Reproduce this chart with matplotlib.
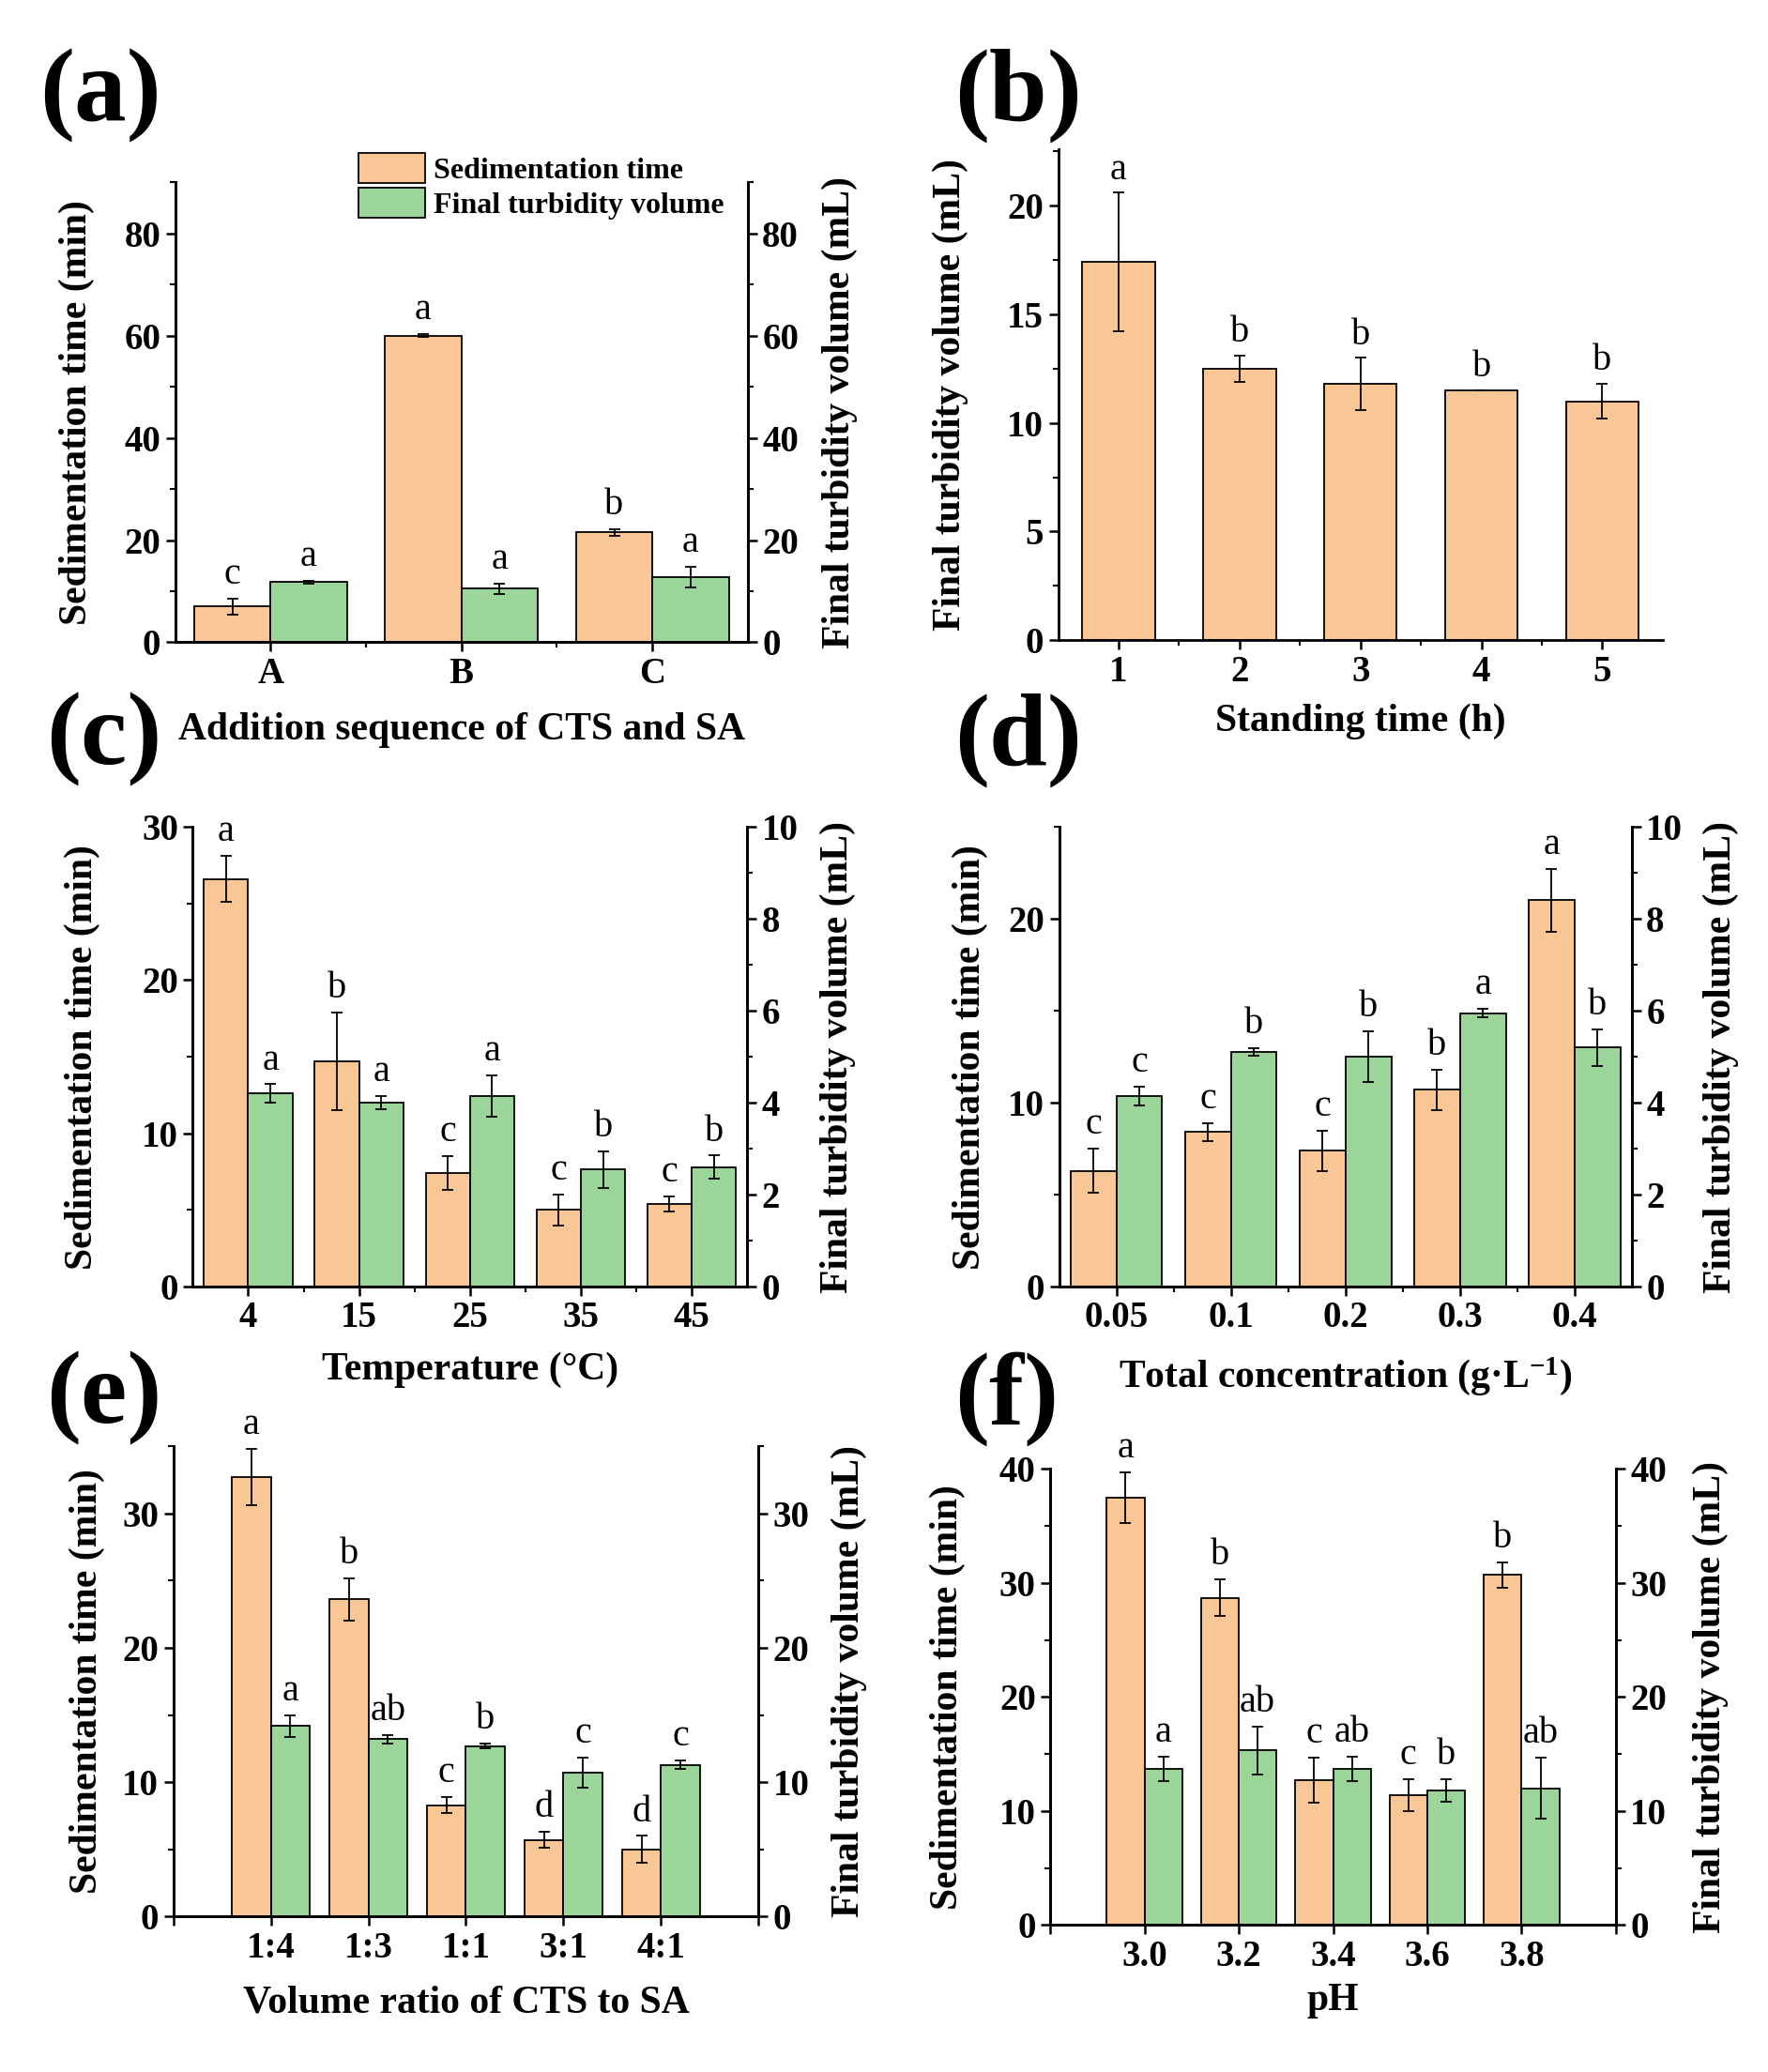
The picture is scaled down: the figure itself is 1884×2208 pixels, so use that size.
import matplotlib
matplotlib.use("Agg")
import matplotlib.pyplot as plt
import numpy as np
from matplotlib.ticker import MultipleLocator
from matplotlib.patches import Patch

plt.rcParams["font.family"] = ["Liberation Serif", "DejaVu Serif"]
plt.rcParams["mathtext.fontset"] = "custom"
plt.rcParams["mathtext.rm"] = "Liberation Serif"
plt.rcParams["mathtext.bf"] = "Liberation Serif:bold"
plt.rcParams["mathtext.default"] = "bf"

orange = "#F9C795"
green = "#9BD59A"

# (a) addition sequence
a_cats = ["A", "B", "C"]
a_sed = [7.0, 60.0, 21.5]
a_sed_err = [1.5, 0.3, 0.7]
a_sed_let = ["c", "a", "b"]
a_tur = [11.8, 10.5, 12.8]
a_tur_err = [0.3, 1.0, 2.0]
a_tur_let = ["a", "a", "a"]

# (b) standing time
b_cats = ["1", "2", "3", "4", "5"]
b_tur = [17.4, 12.5, 11.8, 11.5, 11.0]
b_tur_err = [3.2, 0.6, 1.2, 0.0, 0.8]
b_let = ["a", "b", "b", "b", "b"]

# (c) temperature
c_cats = ["4", "15", "25", "35", "45"]
c_sed = [26.6, 14.7, 7.4, 5.0, 5.4]
c_sed_err = [1.5, 3.2, 1.1, 1.0, 0.5]
c_sed_let = ["a", "b", "c", "c", "c"]
c_tur = [4.2, 4.0, 4.15, 2.55, 2.6]
c_tur_err = [0.2, 0.15, 0.45, 0.4, 0.25]
c_tur_let = ["a", "a", "a", "b", "b"]

# (d) total concentration
d_cats = ["0.05", "0.1", "0.2", "0.3", "0.4"]
d_sed = [6.3, 8.4, 7.4, 10.7, 21.0]
d_sed_err = [1.2, 0.5, 1.1, 1.1, 1.7]
d_sed_let = ["c", "c", "c", "b", "a"]
d_tur = [4.15, 5.1, 5.0, 5.95, 5.2]
d_tur_err = [0.2, 0.08, 0.55, 0.1, 0.4]
d_tur_let = ["c", "b", "b", "a", "b"]

# (e) volume ratio
e_cats = ["1:4", "1:3", "1:1", "3:1", "4:1"]
e_sed = [32.7, 23.6, 8.3, 5.7, 5.0]
e_sed_err = [2.1, 1.6, 0.6, 0.6, 1.0]
e_sed_let = ["a", "b", "c", "d", "d"]
e_tur = [14.2, 13.2, 12.7, 10.7, 11.3]
e_tur_err = [0.8, 0.3, 0.2, 1.1, 0.3]
e_tur_let = ["a", "ab", "b", "c", "c"]

# (f) pH
f_cats = ["3.0", "3.2", "3.4", "3.6", "3.8"]
f_sed = [37.5, 28.7, 12.7, 11.4, 30.7]
f_sed_err = [2.2, 1.6, 2.0, 1.4, 1.1]
f_sed_let = ["a", "b", "c", "c", "b"]
f_tur = [13.7, 15.3, 13.7, 11.8, 12.0]
f_tur_err = [1.1, 2.1, 1.1, 1.0, 2.7]
f_tur_let = ["a", "ab", "ab", "b", "ab"]

TICK = 28
LAB = 30
LET = 29


def style_axis(ax, ymax, ymaj, ymin, right=False):
    ax.set_ylim(0, ymax)
    ax.yaxis.set_major_locator(MultipleLocator(ymaj))
    ax.yaxis.set_minor_locator(MultipleLocator(ymin))
    ax.tick_params(axis="both", which="major", direction="out", length=7,
                   width=1.8, labelsize=TICK, pad=4)
    ax.tick_params(axis="both", which="minor", direction="out", length=4,
                   width=1.5)
    for s in ax.spines.values():
        s.set_linewidth(2.0)
    ax.spines["top"].set_visible(False)
    if not right:
        ax.spines["right"].set_visible(False)
    for t in ax.get_yticklabels():
        t.set_fontweight("bold")


def letters(ax, xs, vals, errs, labs, off=5):
    for x, v, e, l in zip(xs, vals, errs, labs):
        ax.annotate(l, (x, v + e), xytext=(0, off), textcoords="offset points",
                    ha="center", va="bottom", fontsize=LET)


def bars(ax, xs, vals, errs, color, w):
    ax.bar(xs, vals, w, color=color, edgecolor="black", linewidth=1.3,
           zorder=2)
    ax.errorbar(xs, vals, yerr=errs, fmt="none", ecolor="black",
                elinewidth=1.3, capsize=4, capthick=1.3, zorder=3)


def dual(rect, cats, sed, sed_err, sed_let, tur, tur_err, tur_let,
         ylim1, maj1, min1, ylim2, maj2, min2, xlim, xlabel, xl_y,
         yl_l, yl_r, minor_x=True):
    ax = fig.add_axes(rect)
    ax2 = ax.twinx()
    x = np.arange(len(cats))
    w = 0.4
    bars(ax, x - w / 2, sed, sed_err, orange, w)
    bars(ax2, x + w / 2, tur, tur_err, green, w)
    style_axis(ax, ylim1, maj1, min1)
    style_axis(ax2, ylim2, maj2, min2, right=True)
    ax.spines["right"].set_visible(True)
    letters(ax, x - w / 2, sed, sed_err, sed_let)
    letters(ax2, x + w / 2, tur, tur_err, tur_let)
    ax.set_xlim(*xlim)
    ax.set_xticks(x)
    ax.set_xticklabels(cats, fontweight="bold")
    if minor_x:
        ax.set_xticks(x[:-1] + 0.5, minor=True)
    else:
        ax.set_xticks([xlim[0], xlim[1]], minor=True)
        ax.tick_params(axis="x", which="minor", length=7, width=1.8)
    ax.set_xlabel(xlabel, fontsize=LAB, fontweight="bold", va="center")
    ax.xaxis.set_label_coords(0.5, xl_y)
    ax.set_ylabel("Sedimentation time (min)", fontsize=LAB,
                  fontweight="bold", va="center")
    ax.yaxis.set_label_coords(yl_l, 0.5)
    ax2.set_ylabel("Final turbidity volume (mL)", fontsize=LAB,
                   fontweight="bold", rotation=90, va="center")
    ax2.yaxis.set_label_coords(yl_r, 0.5)
    return ax, ax2


fig = plt.figure(figsize=(18.84, 22.08), dpi=100)

# (a)
ax_a, ax_a2 = dual([0.099, 0.690, 0.324, 0.222], a_cats, a_sed, a_sed_err,
                   a_sed_let, a_tur, a_tur_err, a_tur_let,
                   90, 20, 10, 90, 20, 10, (-0.5, 2.5),
                   "Addition sequence of CTS and SA", -0.19, -0.172, 1.16)
handles = [Patch(facecolor=orange, edgecolor="black", linewidth=1.3),
           Patch(facecolor=green, edgecolor="black", linewidth=1.3)]
ax_a.legend(handles, ["Sedimentation time", "Final turbidity volume"],
            loc="upper left", bbox_to_anchor=(0.30, 1.09), frameon=False,
            prop={"size": 23, "weight": "bold"}, handlelength=2.2,
            handleheight=1.15, borderaxespad=0, handletextpad=0.3,
            labelspacing=0.12)

# (b)
ax_b = fig.add_axes([0.5985, 0.691, 0.342, 0.237])
xb = np.arange(1, len(b_cats) + 1)
bars(ax_b, xb, b_tur, b_tur_err, orange, 0.6)
style_axis(ax_b, 22.6, 5, 2.5)
letters(ax_b, xb, b_tur, b_tur_err, b_let, off=4)
ax_b.set_xlim(0.5, 5.5)
ax_b.set_xticks(xb)
ax_b.set_xticklabels(b_cats, fontweight="bold")
ax_b.set_xticks(xb[:-1] + 0.5, minor=True)
ax_b.set_xlabel("Standing time (h)", fontsize=LAB, fontweight="bold",
                va="center")
ax_b.xaxis.set_label_coords(0.5, -0.165)
ax_b.set_ylabel("Final turbidity volume (mL)", fontsize=LAB,
                fontweight="bold", va="center")
ax_b.yaxis.set_label_coords(-0.178, 0.5)

# (c)
dual([0.109, 0.379, 0.3136, 0.222], c_cats, c_sed, c_sed_err, c_sed_let,
     c_tur, c_tur_err, c_tur_let, 30, 10, 5, 10, 2, 1, (-0.5, 4.5),
     "Temperature (\u00b0C)", -0.18, -0.199, 1.163)

# (d)
dual([0.599, 0.379, 0.324, 0.222], d_cats, d_sed, d_sed_err, d_sed_let,
     d_tur, d_tur_err, d_tur_let, 25, 10, 5, 10, 2, 1, (-0.5, 4.5),
     "Total concentration (g\u00b7L$^{-1}$)", -0.194, -0.155, 1.155)

# (e)
dual([0.098, 0.075, 0.331, 0.227], e_cats, e_sed, e_sed_err, e_sed_let,
     e_tur, e_tur_err, e_tur_let, 35, 10, 5, 35, 10, 5, (-1, 5),
     "Volume ratio of CTS to SA", -0.184, -0.148, 1.155, minor_x=False)

# (f)
dual([0.594, 0.071, 0.320, 0.220], f_cats, f_sed, f_sed_err, f_sed_let,
     f_tur, f_tur_err, f_tur_let, 40, 10, 5, 40, 10, 5, (-1, 5),
     "pH", -0.166, -0.181, 1.167, minor_x=False)

# panel letters
for lab, x, y in [("(a)", 0.0226, 0.954), ("(b)", 0.54, 0.954),
                  ("(c)", 0.026, 0.643), ("(d)", 0.54, 0.643),
                  ("(e)", 0.026, 0.325), ("(f)", 0.54, 0.325)]:
    fig.text(x, y, lab, fontsize=80, fontweight="bold", ha="left",
             va="center")

fig.savefig("out.png", dpi=100, facecolor="white")
